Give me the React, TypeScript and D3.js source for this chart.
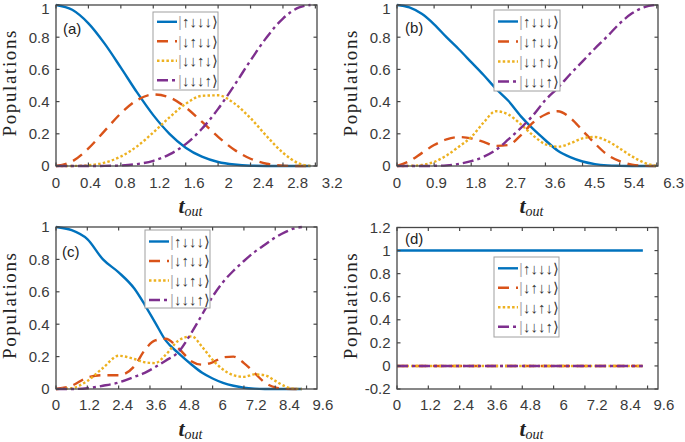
import React from 'react';
import * as d3 from 'd3';

// ---------- data ----------
const tA = [0, 0.2, 0.4, 0.6, 0.8, 1.0, 1.2, 1.4, 1.6, 1.8, 2.0, 2.2, 2.4, 2.6, 2.8, 3.0, 3.14];
const aUp1 = [1, 0.970, 0.886, 0.760, 0.611, 0.457, 0.316, 0.200, 0.114, 0.058, 0.025, 0.009, 0.002, 0.0004, 0, 0, 0];
const aUp2 = [0, 0.029, 0.109, 0.218, 0.327, 0.409, 0.444, 0.426, 0.364, 0.275, 0.181, 0.101, 0.045, 0.014, 0.002, 0, 0];
const aUp3 = [0, 0.0003, 0.0045, 0.021, 0.059, 0.122, 0.208, 0.302, 0.386, 0.436, 0.439, 0.389, 0.297, 0.185, 0.082, 0.015, 0];
const aUp4 = [0, 0, 0.0001, 0.0007, 0.0035, 0.012, 0.032, 0.072, 0.136, 0.231, 0.355, 0.501, 0.656, 0.800, 0.916, 0.985, 1];

const tB = [0, 0.3, 0.6, 0.9, 1.2, 1.5, 1.8, 2.1, 2.4, 2.7, 3.0, 3.3, 3.6, 3.9, 4.2, 4.5, 4.8, 5.1, 5.4, 5.7, 6.0, 6.28];
const bUp1 = [1, 0.985, 0.945, 0.88, 0.80, 0.725, 0.645, 0.565, 0.48, 0.405, 0.31, 0.23, 0.16, 0.095, 0.055, 0.028, 0.012, 0.004, 0.001, 0, 0, 0];
const bUp2 = [0, 0.03, 0.08, 0.13, 0.165, 0.18, 0.172, 0.15, 0.125, 0.13, 0.19, 0.27, 0.32, 0.34, 0.30, 0.22, 0.14, 0.07, 0.03, 0.008, 0.001, 0];
const bUp3 = [0, 0.001, 0.006, 0.025, 0.065, 0.12, 0.18, 0.27, 0.34, 0.32, 0.26, 0.19, 0.135, 0.12, 0.14, 0.172, 0.18, 0.155, 0.11, 0.06, 0.02, 0];
const bUp4 = [0, 0, 0, 0.001, 0.004, 0.013, 0.03, 0.057, 0.10, 0.165, 0.235, 0.315, 0.41, 0.485, 0.57, 0.65, 0.73, 0.805, 0.885, 0.948, 0.987, 1];

const tC = [0, 0.6, 1.2, 1.8, 2.4, 3.0, 3.4, 3.8, 4.2, 4.7, 5.2, 5.6, 6.0, 6.4, 6.8, 7.2, 7.6, 8.0, 8.4, 8.8, 9.1, 9.42];
const cUp1 = [1, 0.98, 0.925, 0.80, 0.72, 0.62, 0.52, 0.41, 0.30, 0.22, 0.15, 0.10, 0.065, 0.038, 0.02, 0.008, 0.002, 0, 0, 0, 0, 0];
const cUp2 = [0, 0.02, 0.07, 0.085, 0.085, 0.14, 0.24, 0.30, 0.31, 0.25, 0.17, 0.15, 0.165, 0.195, 0.20, 0.16, 0.10, 0.04, 0.01, 0.001, 0, 0];
const cUp3 = [0, 0.005, 0.05, 0.13, 0.205, 0.185, 0.165, 0.16, 0.21, 0.30, 0.325, 0.26, 0.18, 0.12, 0.085, 0.075, 0.09, 0.085, 0.05, 0.015, 0.002, 0];
const cUp4 = [0, 0, 0.005, 0.02, 0.04, 0.075, 0.10, 0.135, 0.175, 0.23, 0.35, 0.46, 0.57, 0.66, 0.73, 0.79, 0.845, 0.89, 0.935, 0.97, 0.99, 1];

const tD = [0, 9.42];
const dUp1 = [1, 1];
const dUp2 = [0, 0];
const dUp3 = [0, 0];
const dUp4 = [0, 0];

const xTicksA = [0, 0.4, 0.8, 1.2, 1.6, 2, 2.4, 2.8, 3.2];
const xTicksB = [0, 0.9, 1.8, 2.7, 3.6, 4.5, 5.4, 6.3];
const xTicksCD = [0, 1.2, 2.4, 3.6, 4.8, 6, 7.2, 8.4, 9.6];
const yTicksABC = [0, 0.2, 0.4, 0.6, 0.8, 1];
const yTicksD = [-0.2, 0, 0.2, 0.4, 0.6, 0.8, 1, 1.2];

const legendLabels = ['\u2191\u2193\u2193\u2193\u27E9', '\u2193\u2191\u2193\u2193\u27E9', '\u2193\u2193\u2191\u2193\u27E9', '\u2193\u2193\u2193\u2191\u27E9'];
const panelTags = ['(a)', '(b)', '(c)', '(d)'];

// ---------- styles ----------
const seriesColors = ['#0072BD', '#D95319', '#EDB120', '#7E2F8E'];
const seriesDash = [undefined, '11,7', '2.5,2.2', '11,4,3,4'];
const axisColor = '#474747';
const textColor = '#3a3a3a';
const sans = '"Liberation Sans", Arial, Helvetica, "DejaVu Sans", sans-serif';
const serif = '"Liberation Serif", "Times New Roman", serif';
const labelStretch = 1.065;

const panels = [
  { x0: 56, x1: 317, top: 5, bottom: 166, xmax: 3.22, ydom: [0, 1], xticks: xTicksA, yticks: yTicksABC,
    t: tA, series: [aUp1, aUp2, aUp3, aUp4], legend: { x: 153, y: 12, w: 65, h: 78, row0: 9.8, dy: 19.5 },
    tag: { x: 63, y: 34 }, xlabY: 213, tickLabY: 188 },
  { x0: 397, x1: 658, top: 5, bottom: 166, xmax: 6.33, ydom: [0, 1], xticks: xTicksB, yticks: yTicksABC,
    t: tB, series: [bUp1, bUp2, bUp3, bUp4], legend: { x: 494, y: 10, w: 66, h: 81, row0: 11.5, dy: 20 },
    tag: { x: 405, y: 33 }, xlabY: 213, tickLabY: 188 },
  { x0: 56, x1: 317, top: 227, bottom: 389, xmax: 10, ydom: [0, 1], xticks: xTicksCD, yticks: yTicksABC,
    t: tC, series: [cUp1, cUp2, cUp3, cUp4], legend: { x: 145, y: 230, w: 65, h: 78, row0: 11.5, dy: 19.5 },
    tag: { x: 62, y: 257 }, xlabY: 436, tickLabY: 410 },
  { x0: 397, x1: 658, top: 227.5, bottom: 389, xmax: 10, ydom: [-0.2, 1.2], xticks: xTicksCD, yticks: yTicksD,
    t: tD, series: [dUp1, dUp2, dUp3, dUp4], legend: { x: 494, y: 257, w: 65, h: 80, row0: 11.3, dy: 19.5 },
    tag: { x: 405, y: 244 }, xlabY: 436, tickLabY: 410 },
];

function fmt(v: number) {
  return String(Math.round(v * 10) / 10);
}

function Panel({ cfg, tag }: { cfg: any; tag: string }) {
  const x = d3.scaleLinear().domain([0, cfg.xmax]).range([cfg.x0, cfg.x1]);
  const y = d3.scaleLinear().domain(cfg.ydom).range([cfg.bottom, cfg.top]);
  const t: number[] = cfg.t;
  const line = d3
    .line<number>()
    .x((_, i) => x(t[i]))
    .y((d) => y(d))
    .curve(d3.curveMonotoneX);
  const tl = 3.5;
  const lg = cfg.legend;
  const midY = (cfg.top + cfg.bottom) / 2;
  const ylabX = cfg.x0 - 40;
  return (
    <g>
      {cfg.series.map((s: number[], i: number) => (
        <path key={i} d={line(s) || ''} fill="none" stroke={seriesColors[i]} strokeWidth={2.4}
          strokeDasharray={seriesDash[i]} strokeLinecap="butt" strokeLinejoin="round" />
      ))}
      <rect x={cfg.x0} y={cfg.top} width={cfg.x1 - cfg.x0} height={cfg.bottom - cfg.top}
        fill="none" stroke={axisColor} strokeWidth={1.3} />
      {cfg.xticks.map((v: number, i: number) => {
        const px = x(v);
        const lx = cfg.x0 + (px - cfg.x0) * labelStretch;
        return (
          <g key={'x' + i}>
            {px < cfg.x1 - 1 && (
              <>
                <line x1={px} x2={px} y1={cfg.bottom} y2={cfg.bottom - tl} stroke={axisColor} strokeWidth={1.2} />
                <line x1={px} x2={px} y1={cfg.top} y2={cfg.top + tl} stroke={axisColor} strokeWidth={1.2} />
              </>
            )}
            <text x={Math.min(lx, 674)} y={cfg.tickLabY} textAnchor="middle" fontFamily={sans} fontSize={15} fill={textColor}>
              {fmt(v)}
            </text>
          </g>
        );
      })}
      {cfg.yticks.map((v: number, i: number) => {
        const py = y(v);
        return (
          <g key={'y' + i}>
            <line x1={cfg.x0} x2={cfg.x0 + tl} y1={py} y2={py} stroke={axisColor} strokeWidth={1.2} />
            <line x1={cfg.x1} x2={cfg.x1 - tl} y1={py} y2={py} stroke={axisColor} strokeWidth={1.2} />
            <text x={cfg.x0 - 6.5} y={Math.max(py + 5.3, 13.5)} textAnchor="end" fontFamily={sans} fontSize={15} fill={textColor}>
              {fmt(v)}
            </text>
          </g>
        );
      })}
      <text x={cfg.tag.x} y={cfg.tag.y} fontFamily={sans} fontSize={15} fill="#222">{tag}</text>
      <g>
        <rect x={lg.x} y={lg.y} width={lg.w} height={lg.h} fill="#fff" stroke="#a0a0a0" strokeWidth={1} />
        {legendLabels.map((lab, i) => {
          const ry = lg.y + lg.row0 + i * lg.dy;
          return (
            <g key={'l' + i}>
              <line x1={lg.x + 4} x2={lg.x + 24} y1={ry} y2={ry} stroke={seriesColors[i]} strokeWidth={2.4}
                strokeDasharray={seriesDash[i]} />
              <text x={lg.x + 25} y={ry + 5.3} fontFamily={sans} fontSize={15} fill={textColor}>
                <tspan fill="#b0b0b0">|</tspan>
                <tspan>{lab}</tspan>
              </text>
            </g>
          );
        })}
      </g>
      <text transform={`translate(${ylabX},${midY - 2}) rotate(-90)`} textAnchor="middle"
        fontFamily={serif} fontSize={19} fill="#222" textLength={106} lengthAdjust="spacing">
        Populations
      </text>
      <text x={(cfg.x0 + cfg.x1) / 2 + 4} y={cfg.xlabY} textAnchor="middle" fontFamily={serif} fill="#222">
        <tspan fontSize={22} fontWeight="bold" fontStyle="italic">t</tspan>
        <tspan fontSize={14} fontStyle="italic" dy={3}>out</tspan>
      </text>
    </g>
  );
}

export default function App() {
  return (
    <svg width={685} height={442} viewBox="0 0 685 442"
      style={{ position: 'absolute', left: 0, top: 0, display: 'block', background: '#fff' }}>
      <rect x={0} y={0} width={685} height={442} fill="#fff" />
      {panels.map((p, i) => (
        <Panel key={i} cfg={p} tag={panelTags[i]} />
      ))}
    </svg>
  );
}
